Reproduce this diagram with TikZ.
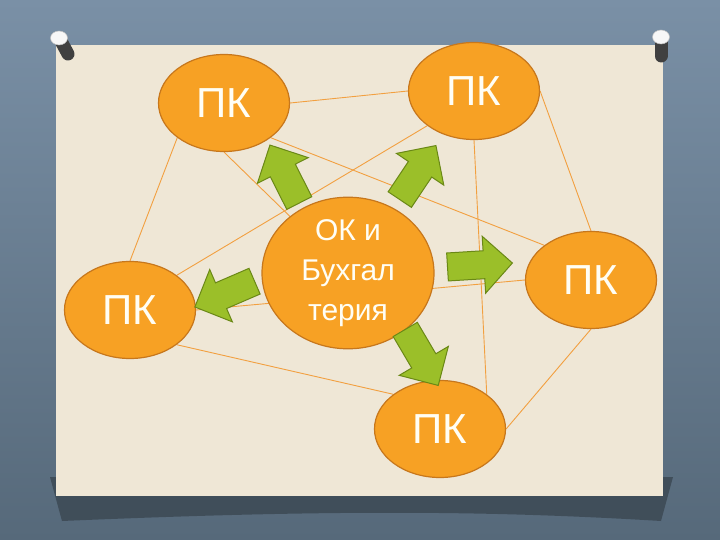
\documentclass[tikz,border=0pt]{standalone}
\usepackage{fontspec}
\setmainfont{Liberation Sans}
\usetikzlibrary{shapes.geometric,shapes.arrows}
\definecolor{slate}{HTML}{7A90A6}
\definecolor{slatedark}{HTML}{56697A}
\definecolor{shadowcol}{HTML}{3C4954}
\definecolor{paper}{HTML}{EFE7D6}
\definecolor{pcfill}{HTML}{F7A124}
\definecolor{pcedge}{HTML}{C7771C}
\definecolor{linkcol}{HTML}{F2A040}
\definecolor{arrowfill}{HTML}{9BBF29}
\definecolor{arrowedge}{HTML}{6A8816}
\pgfdeclarelayer{paperlayer}
\pgfdeclarelayer{linklayer}
\pgfsetlayers{paperlayer,linklayer,main}
\tikzset{
    link/.style = {
        draw = linkcol,
        line width = 0.9pt,
        },
    pin head/.style = {
        fill = white!94!gray,
        draw = gray!50,
        line width = 0.5pt,
        },
    pin body/.style = {
        line width = 13pt,
        line cap = round,
        draw = gray!50!black,
        },
}

\begin{document}
\begin{tikzpicture}[
            x=1pt, y=-1pt,
            PcNode/.style={ellipse, draw=pcedge, fill=pcfill, line width=1.2pt, minimum width=131pt, minimum height=97pt, inner sep=0pt, text=white!96!yellow, font=\fontsize{42}{46}\selectfont},
            CentreNode/.style={PcNode, minimum width=172pt, minimum height=129pt, align=center, font=\fontsize{30}{40}\selectfont},
            GreenArrow/.style={single arrow, draw=arrowedge, fill=arrowfill, line width=1pt, minimum height=65pt, inner xsep=0pt, inner ysep=13.5pt, single arrow head extend=14.5pt, anchor=tail}
            ]
            \useasboundingbox (0,0) rectangle (720,540);

            \begin{pgfonlayer}{paperlayer}
            \shade[top color=slate, bottom color=slatedark] (0,0) rectangle (720,540);
            \fill[shadowcol, opacity=0.85] (50,477) -- (673,477) -- (661,521) .. controls (480,510) and (320,510) .. (62,521) -- cycle;
            \fill[paper] (56,45) rectangle (663,496);
            % pins
            \draw[pin body] (61,41) -- (68,54);
            \draw[pin head] (59,38) ellipse (8.5 and 7);
            \draw[pin body] (661,41) -- (661,56);
            \draw[pin head] (661,37) ellipse (8.5 and 7);
            \end{pgfonlayer}

            \node [PcNode] (pc1) at (224,103) {ПК};
            \node [PcNode] (pc2) at (474,91) {ПК};
            \node [PcNode] (pc3) at (591,280) {ПК};
            \node [PcNode] (pc4) at (130,310) {ПК};
            \node [PcNode] (pc5) at (440,429) {ПК};
            \node [CentreNode] (ok) at (348,273) {ОК и\\Бухгал\\терия};

            \node [GreenArrow, rotate=116.8] (a1) at (299.5,203.5) {};
            \node [GreenArrow, rotate=56.2] (a2) at (399.5,200) {};
            \node [GreenArrow, rotate=3.5] (a3) at (447,267) {};
            \node [GreenArrow, rotate=203.4] (a4) at (255,281) {};
            \node [GreenArrow, rotate=-59.5] (a5) at (405,329) {};

            \begin{pgfonlayer}{linklayer}
            \draw[link] (pc1.east) -- (pc2.west);
            \draw[link] (pc1.south west) -- (pc4.north);
            \draw[link] (pc1.south east) -- (pc3.north west);
            \draw[link] (pc1.south) -- (ok.center);
            \draw[link] (pc2.south west) -- (pc4.north east);
            \draw[link] (pc2.east) -- (pc3.north);
            \draw[link] (pc2.south) -- (pc5.north east);
            \draw[link] (pc3.south) -- (pc5.east);
            \draw[link] (pc4.south east) -- (pc5.north west);
            \draw[link] (pc4.east) -- (pc3.west);
            \end{pgfonlayer}
\end{tikzpicture}
\end{document}
